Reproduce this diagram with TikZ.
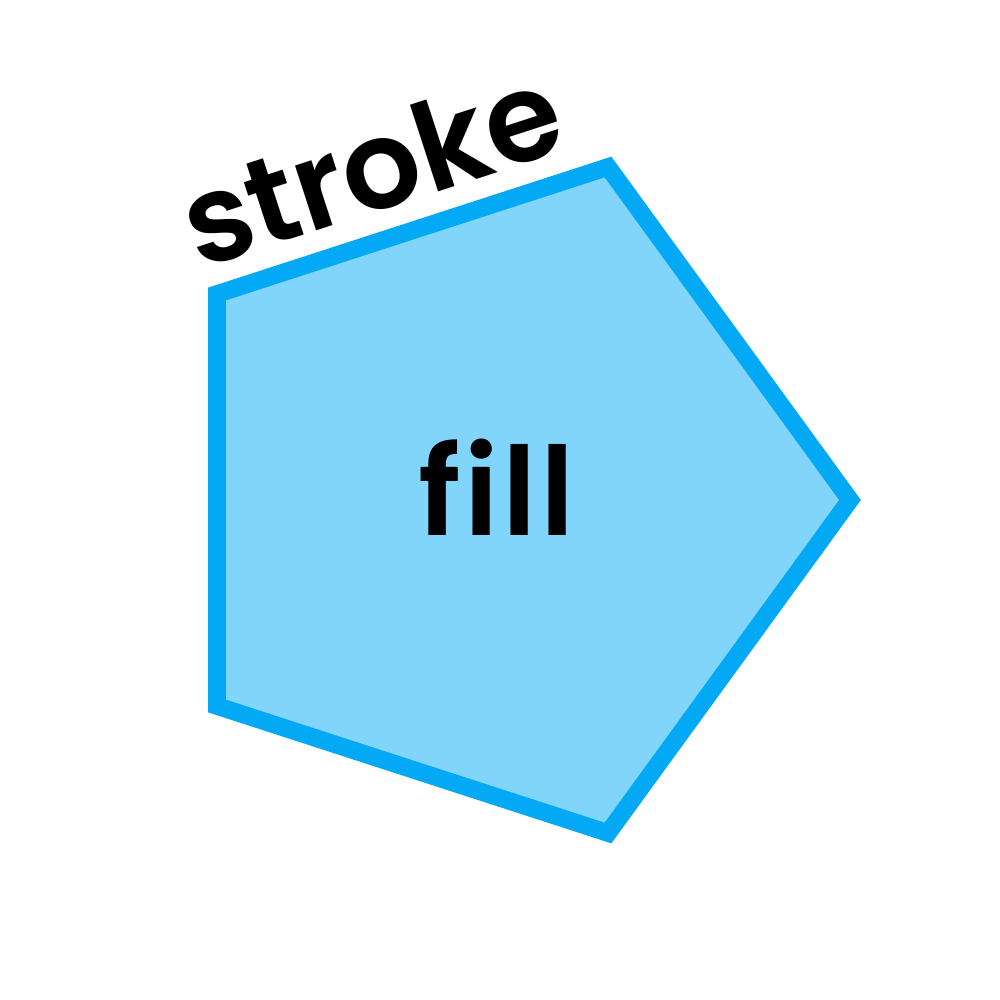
\documentclass[tikz,border=0pt]{standalone}
\usepackage{fontspec}
\setmainfont{Poppins}[Ligatures=NoCommon]
\newfontfamily\lblfont{Poppins SemiBold}[Ligatures=NoCommon]
\definecolor{strokeblue}{HTML}{03A9F4}
\definecolor{fillblue}{HTML}{81D4FA}
\begin{document}
\begin{tikzpicture}[x=0.01cm,y=-0.01cm,
  lbl/.style={font=\lblfont\fontsize{35pt}{40pt}\selectfont, text=black, inner sep=0pt}]
\useasboundingbox (0,0) rectangle (1000,1000);
\coordinate (v1) at (850,500);
\coordinate (v2) at (608,167);
\coordinate (v3) at (217,294);
\coordinate (v4) at (217,706);
\coordinate (v5) at (608,833);
\draw[strokeblue, fill=fillblue, line width=5pt, miter limit=10] (v1) -- (v2) -- (v3) -- (v4) -- (v5) -- cycle;
\node[lbl, font=\lblfont\addfontfeatures{LetterSpace=3}\fontsize{35pt}{40pt}\selectfont] (fill) at (497,487) {fill};
\node[lbl, rotate=18] (stroke) at (371,166) {stroke};
\end{tikzpicture}
\end{document}
